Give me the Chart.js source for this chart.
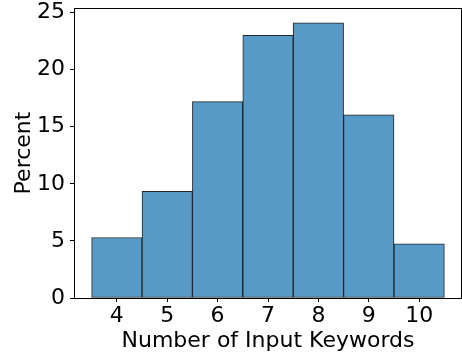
<!DOCTYPE html>
<html>
<head>
<meta charset="utf-8">
<script src="https://cdn.jsdelivr.net/npm/chart.js@4/dist/chart.umd.min.js"></script>
<style>
  html, body { margin: 0; padding: 0; background: #fff; }
  #wrap { width: 462px; height: 356px; }
</style>
</head>
<body>
<div id="wrap"><canvas id="myChart" width="462" height="356"></canvas></div>
<script>
'use strict';

// keyword counts and their share (percent)
let keywordCounts = [4, 5, 6, 7, 8, 9, 10];
let percentVals = [5.3, 9.35, 17.2, 23.0, 24.1, 16.05, 4.75];
let yTicks = [0, 5, 10, 15, 20, 25];

let fontFam = '"DejaVu Sans", sans-serif';
let fontSize = 22;

// box round the plot area (all four spines)
const frameBox = {
    id: 'frameBox',
    afterDatasetsDraw(chart) {
        let a = chart.chartArea;
        let ctx = chart.ctx;
        ctx.save();
        ctx.strokeStyle = '#000';
        ctx.lineWidth = 1;
        ctx.strokeRect(Math.round(a.left) + 0.5, Math.round(a.top) + 0.5,
            Math.round(a.right - a.left) - 1, Math.round(a.bottom - a.top));
        ctx.restore();
    }
};

function createChart() {
    let ctx = document.getElementById('myChart').getContext('2d');

    let points = keywordCounts.map((k, i) => ({ x: k, y: percentVals[i] }));

    new Chart(ctx, {
        type: 'bar',
        data: {
            datasets: [{
                label: 'Percent',
                data: points,
                backgroundColor: 'rgb(87,153,199)',
                borderColor: 'rgba(0,0,0,0.85)',
                borderWidth: 1,
                borderSkipped: false,
                barPercentage: 1,
                categoryPercentage: 1
            }]
        },
        options: {
            responsive: false,
            animation: false,
            maintainAspectRatio: false,
            layout: { padding: { top: 8, right: 0, left: 0, bottom: 0 } },
            plugins: {
                legend: { display: false },
                tooltip: { enabled: false }
            },
            scales: {
                x: {
                    type: 'linear',
                    offset: false,
                    min: 3.15,
                    max: 10.85,
                    afterBuildTicks(scale) {
                        scale.ticks = keywordCounts.map(v => ({ value: v }));
                    },
                    afterFit(scale) {
                        scale.height = 58;
                        scale.paddingLeft = 0;
                        scale.paddingRight = 0;
                    },
                    grid: { display: true, offset: false, drawOnChartArea: false, tickLength: 4, color: '#000', tickColor: '#000' },
                    border: { color: '#000', width: 1 },
                    ticks: { color: '#000', font: { family: fontFam, size: fontSize }, padding: 1, maxRotation: 0 },
                    title: {
                        display: true,
                        text: 'Number of Input Keywords',
                        color: '#000',
                        font: { family: fontFam, size: fontSize },
                        padding: { top: 0, bottom: 2 }
                    }
                },
                y: {
                    type: 'linear',
                    min: 0,
                    max: 25.4,
                    afterBuildTicks(scale) {
                        scale.ticks = yTicks.map(v => ({ value: v }));
                    },
                    afterFit(scale) {
                        scale.width = 74;
                        scale.paddingTop = 0;
                        scale.paddingBottom = 0;
                    },
                    grid: { display: true, drawOnChartArea: false, tickLength: 4, color: '#000', tickColor: '#000' },
                    border: { color: '#000', width: 1 },
                    ticks: { color: '#000', font: { family: fontFam, size: fontSize }, padding: 5 },
                    title: {
                        display: true,
                        text: 'Percent',
                        color: '#000',
                        font: { family: fontFam, size: fontSize },
                        padding: { top: 11, bottom: 0 }
                    }
                }
            }
        },
        plugins: [frameBox]
    });
}

createChart();
</script>
</body>
</html>
